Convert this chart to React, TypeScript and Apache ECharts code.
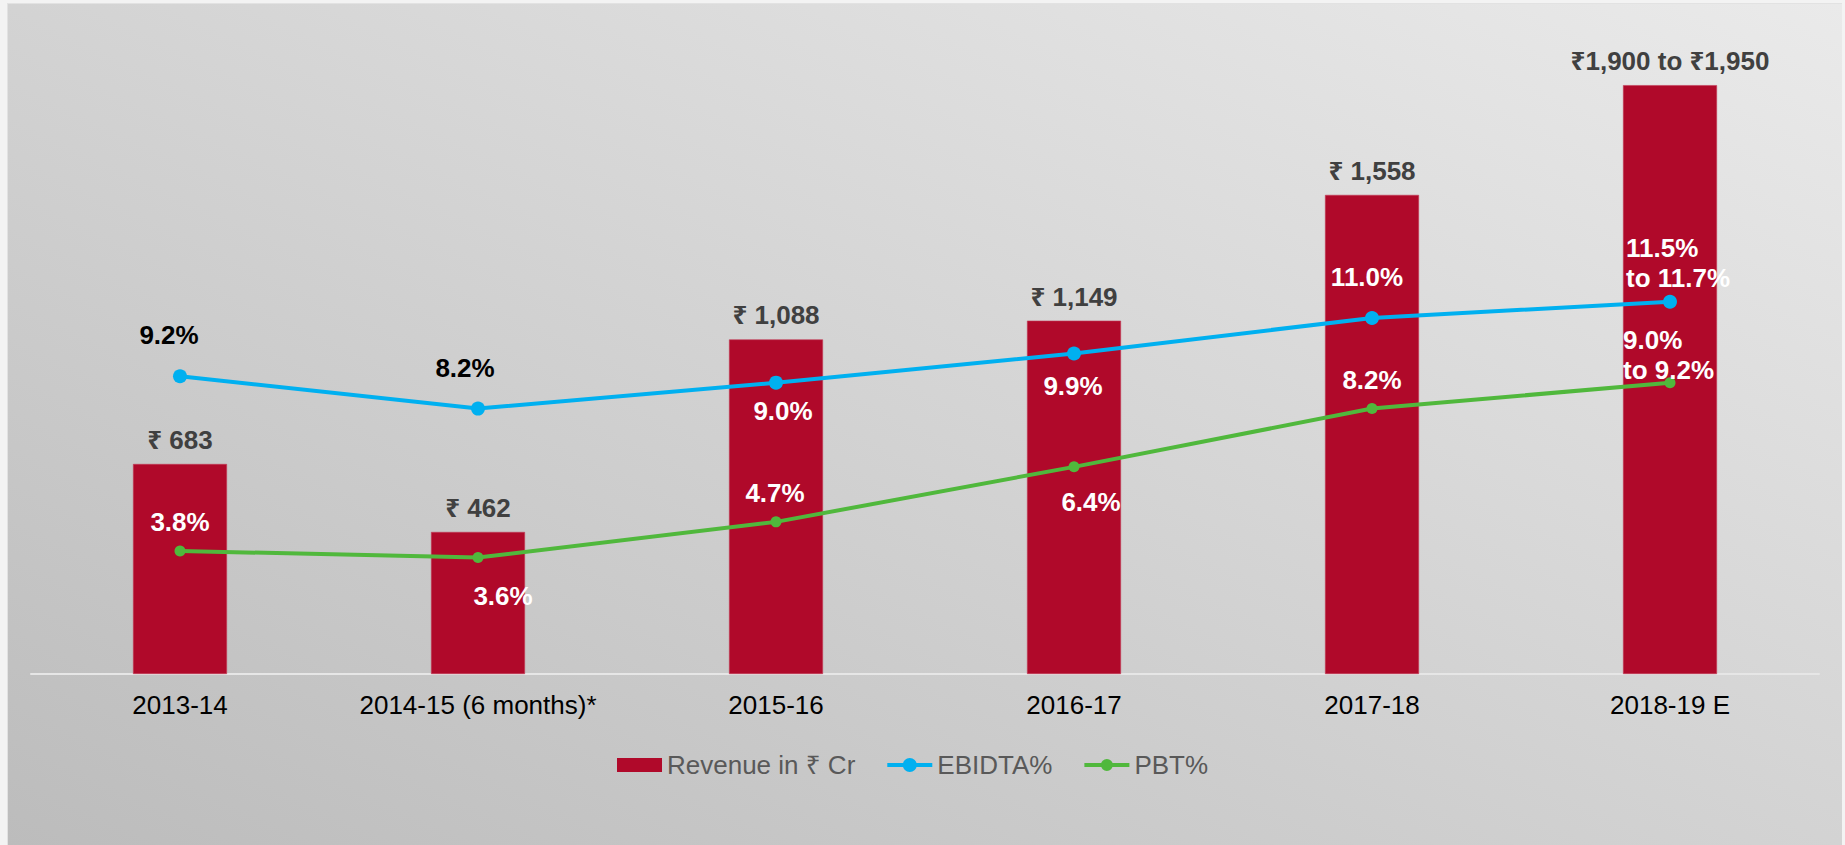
import React, { useEffect, useRef } from "react";
import * as echarts from "echarts";

const categories = ["2013-14", "2014-15 (6 months)*", "2015-16", "2016-17", "2017-18", "2018-19 E"];
const revenue = [683, 462, 1088, 1149, 1558, 1915];
const revenueLabels = ["₹ 683", "₹ 462", "₹ 1,088", "₹ 1,149", "₹ 1,558", "₹1,900 to ₹1,950"];
const ebitda = [9.2, 8.2, 9.0, 9.9, 11.0, 11.5];
const ebitdaLabels = ["9.2%", "8.2%", "9.0%", "9.9%", "11.0%", "11.5%\nto 11.7%"];
const pbt = [3.8, 3.6, 4.7, 6.4, 8.2, 9.0];
const pbtLabels = ["3.8%", "3.6%", "4.7%", "6.4%", "8.2%", "9.0%\nto 9.2%"];

// label placement (style only)
const ebitdaOffsets = [[-11, -41], [-13, -41], [7, 28], [-1, 32], [-5, -41], [-44, -39]];
const ebitdaColors = ["#000000", "#000000", "#ffffff", "#ffffff", "#ffffff", "#ffffff"];
const pbtOffsets = [[0, -29], [25, 39], [-1, -29], [17, 35], [0, -29], [-47, -28]];

const FONT = "'Liberation Sans', Arial, Helvetica, 'Noto Sans', 'DejaVu Sans', sans-serif";
const RED = "#b0092a";
const BLUE = "#00b0f0";
const GREEN = "#50b83c";

// legend icon: thick line with a dot in the middle (45 x 14 box)
const LINE_DOT_ICON =
  "path://M0,5 L45,5 L45,9 L0,9 Z M15.5,7 A7,7 0 1,1 29.5,7 A7,7 0 1,1 15.5,7 Z";
const LINE_DOT_ICON_SMALL =
  "path://M0,5 L45,5 L45,9 L0,9 Z M16.5,7 A6,6 0 1,1 28.5,7 A6,6 0 1,1 16.5,7 Z";

export default function App() {
  const ref = useRef<HTMLDivElement>(null);

  useEffect(() => {
    if (!ref.current) return;
    const chart = echarts.init(ref.current, undefined, { renderer: "svg" });
    chart.setOption({
      animation: false,
      backgroundColor: "transparent",
      textStyle: { fontFamily: FONT },
      grid: { left: 31, right: 26, top: 59, bottom: 171, containLabel: false },
      legend: {
        left: 617,
        top: 750,
        padding: 0,
        itemWidth: 45,
        itemHeight: 14,
        itemGap: 32,
        textStyle: { fontSize: 26, color: "#595959", fontFamily: FONT, lineHeight: 30 },
        data: [
          { name: "Revenue in ₹ Cr", icon: "rect", itemStyle: { borderWidth: 0, color: RED } },
          { name: "EBIDTA%", icon: LINE_DOT_ICON, itemStyle: { color: BLUE, borderWidth: 0 } },
          { name: "PBT%", icon: LINE_DOT_ICON_SMALL, itemStyle: { color: GREEN, borderWidth: 0 } },
        ],
      },
      xAxis: {
        type: "category",
        data: categories,
        axisTick: { show: false },
        axisLine: { show: true, lineStyle: { color: "#e6e6e6", width: 2 } },
        axisLabel: { interval: 0, fontSize: 26, color: "#000000", margin: 18, fontFamily: FONT },
      },
      yAxis: [
        { type: "value", min: 0, max: 2000, show: false, splitLine: { show: false } },
        { type: "value", min: 0, max: 19, show: false, splitLine: { show: false } },
      ],
      series: [
        {
          name: "Revenue in ₹ Cr",
          type: "bar",
          yAxisIndex: 0,
          data: revenue,
          barWidth: 94,
          itemStyle: { color: RED, borderColor: "#c23a55", borderWidth: 0.6 },
          label: {
            show: true,
            position: "top",
            distance: 11,
            fontSize: 26,
            fontWeight: "bold",
            color: "#404040",
            fontFamily: FONT,
            formatter: (p: any) => revenueLabels[p.dataIndex],
          },
        },
        {
          name: "EBIDTA%",
          type: "line",
          yAxisIndex: 1,
          symbol: "circle",
          symbolSize: 14,
          lineStyle: { color: BLUE, width: 4 },
          itemStyle: { color: BLUE },
          data: ebitda.map((v, i) => ({
            value: v,
            label: {
              offset: ebitdaOffsets[i],
              color: ebitdaColors[i],
              align: i === ebitda.length - 1 ? "left" : "center",
            },
          })),
          label: {
            show: true,
            position: "inside",
            fontSize: 26,
            fontWeight: "bold",
            lineHeight: 30,
            verticalAlign: "middle",
            fontFamily: FONT,
            formatter: (p: any) => ebitdaLabels[p.dataIndex],
          },
        },
        {
          name: "PBT%",
          type: "line",
          yAxisIndex: 1,
          symbol: "circle",
          symbolSize: 11,
          lineStyle: { color: GREEN, width: 4 },
          itemStyle: { color: GREEN },
          data: pbt.map((v, i) => ({
            value: v,
            label: {
              offset: pbtOffsets[i],
              align: i === pbt.length - 1 ? "left" : "center",
            },
          })),
          label: {
            show: true,
            position: "inside",
            fontSize: 26,
            fontWeight: "bold",
            lineHeight: 30,
            color: "#ffffff",
            verticalAlign: "middle",
            fontFamily: FONT,
            formatter: (p: any) => pbtLabels[p.dataIndex],
          },
        },
      ],
    });
    return () => chart.dispose();
  }, []);

  return (
    <div style={{ position: "fixed", left: 0, top: 0, width: 1845, height: 845, background: "#f3f3f3" }}>
      <div
        style={{
          position: "absolute",
          left: 7,
          top: 3,
          width: 1835,
          height: 842,
          boxSizing: "border-box",
          borderLeft: "1px solid #e2e2e2",
          borderTop: "1px solid #e2e2e2",
          background: "linear-gradient(to top right, #bcbcbc 0%, #d3d3d3 50%, #eaeaea 100%)",
        }}
      />
      <div ref={ref} style={{ position: "absolute", left: 0, top: 0, width: 1845, height: 845 }} />
    </div>
  );
}
